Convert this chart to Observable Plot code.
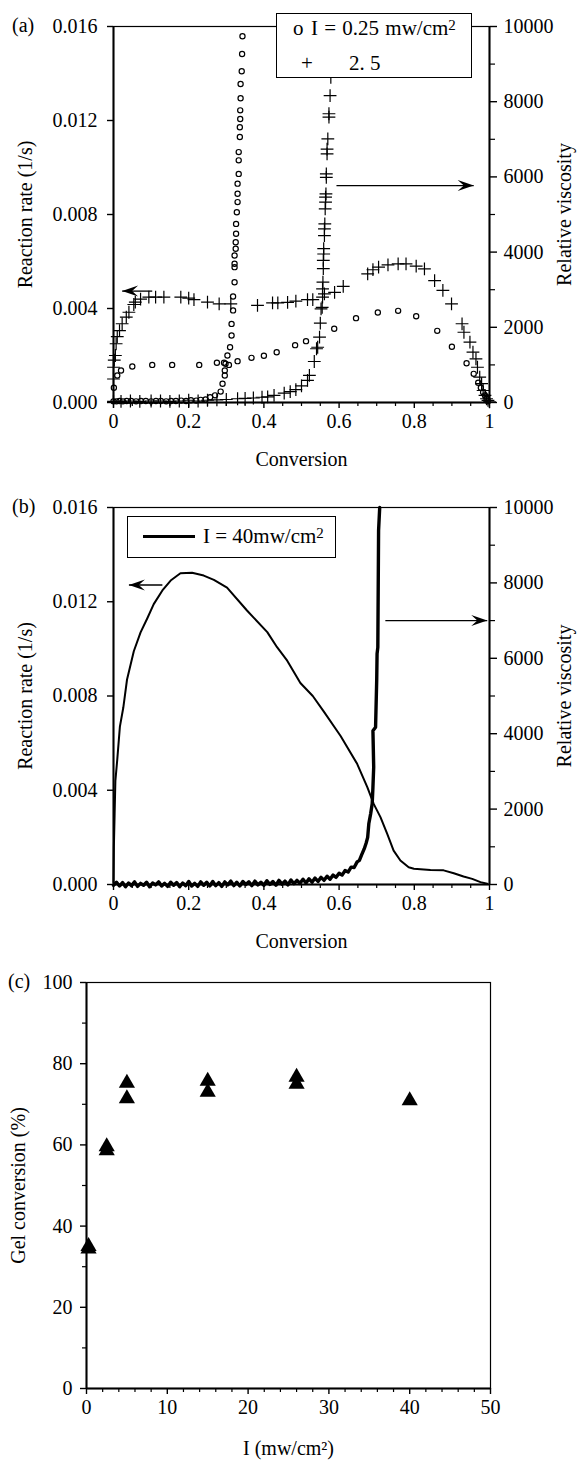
<!DOCTYPE html>
<html><head><meta charset="utf-8">
<script src="https://cdn.jsdelivr.net/npm/d3@7"></script>
<script src="https://cdn.jsdelivr.net/npm/@observablehq/plot@0.6"></script>
<style>
body{margin:0;background:#fff;}
#root{position:relative;width:581px;height:1463px;font-family:"Liberation Serif",serif;font-size:20px;color:#000;overflow:hidden;}
.panel{position:absolute;left:0;}
.panel svg{display:block;}
.tag{position:absolute;line-height:1;white-space:nowrap;}
.legend{position:absolute;border:1.5px solid #000;background:#fff;box-sizing:border-box;font-size:21px;}
.legend span{position:absolute;line-height:1;white-space:nowrap;}
.sup{font-size:15px;vertical-align:7px;}
</style></head><body><div id="root"></div>
<script>
// ---------- tick labels ----------
const convTicks = [0, 0.2, 0.4, 0.6, 0.8, 1];
const convMinor = [0.05,0.1,0.15,0.25,0.3,0.35,0.45,0.5,0.55,0.65,0.7,0.75,0.85,0.9,0.95];
const rateTicks = [0, 0.004, 0.008, 0.012, 0.016];
const viscTicks = [0, 2000, 4000, 6000, 8000, 10000];
const viscMinor = [1000, 3000, 5000, 7000, 9000];
const intensityTicks = [0, 10, 20, 30, 40, 50];
const intensityMinor = [2,4,6,8,12,14,16,18,22,24,26,28,32,34,36,38,42,44,46,48];
const gelTicks = [0, 20, 40, 60, 80, 100];
const gelMinor = [10, 30, 50, 70, 90];

// ---------- (a) I = 0.25 mw/cm2 (circles): [conversion, value] ----------
const rateLow = [[0.001,0.00063],[0.01,0.00115],[0.02,0.00136],[0.05,0.00153],[0.103,0.0016],[0.156,0.0016],[0.228,0.0016],[0.275,0.00169],[0.294,0.00169],[0.307,0.0016],[0.33,0.00176],[0.367,0.0019],[0.40,0.00199],[0.434,0.00214],[0.483,0.00244],[0.512,0.00261],[0.587,0.00314],[0.645,0.00359],[0.703,0.00383],[0.757,0.0039],[0.805,0.00367],[0.861,0.00305],[0.90,0.00237],[0.939,0.00167],[0.958,0.00122],[0.97,0.00084],[0.977,0.00063],[0.983,0.00044],[0.988,0.0003],[0.992,0.00016],[0.996,0.00005]];
const viscLow = [[0.0,30],[0.008,30],[0.016,40],[0.025,30],[0.035,40],[0.047,40],[0.06,30],[0.073,40],[0.086,40],[0.1,30],[0.113,40],[0.126,40],[0.14,30],[0.153,40],[0.166,40],[0.18,50],[0.193,40],[0.206,60],[0.22,50],[0.232,70],[0.245,80],[0.257,140],[0.27,190],[0.285,290],[0.29,500],[0.296,720],[0.296,850],[0.298,1030],[0.303,1250],[0.31,1470],[0.314,1780],[0.314,2090],[0.318,2450],[0.318,2820],[0.322,3200],[0.322,3600],[0.322,3690],[0.322,3910],[0.325,4090],[0.325,4260],[0.326,4490],[0.326,4750],[0.328,5060],[0.33,5330],[0.33,5550],[0.33,5820],[0.333,6080],[0.333,6440],[0.333,6660],[0.336,7060],[0.336,7320],[0.337,7540],[0.337,7770],[0.338,8090],[0.338,8470],[0.341,8810],[0.342,9270],[0.343,9740]];

// ---------- (a) I = 2.5 mw/cm2 (plus) ----------
const rateHigh = [[0.0,0.001],[0.002,0.0018],[0.0,0.0015],[0.005,0.002],[0.007,0.0025],[0.01,0.0028],[0.016,0.00306],[0.023,0.00335],[0.034,0.00363],[0.041,0.00384],[0.054,0.00417],[0.058,0.00427],[0.072,0.0044],[0.094,0.00448],[0.112,0.00448],[0.134,0.00448],[0.179,0.00448],[0.2,0.00444],[0.214,0.00438],[0.25,0.00427],[0.281,0.0042],[0.312,0.0042],[0.383,0.00413],[0.423,0.00424],[0.437,0.00424],[0.463,0.00426],[0.485,0.00431],[0.516,0.00438],[0.53,0.00438],[0.561,0.00462],[0.588,0.00469],[0.611,0.00494],[0.676,0.00547],[0.69,0.00565],[0.705,0.00576],[0.73,0.00586],[0.757,0.0059],[0.778,0.0059],[0.805,0.0058],[0.827,0.00569],[0.854,0.00519],[0.876,0.00477],[0.899,0.0042],[0.927,0.00335],[0.932,0.00299],[0.948,0.00257],[0.956,0.00214],[0.964,0.00186],[0.968,0.0015],[0.974,0.00108],[0.979,0.0008],[0.983,0.00051],[0.988,0.0003],[0.992,0.00016],[0.996,0.00009],[1.0,0.00003]];
const viscHigh = [[0.0,30],[0.02,30],[0.045,40],[0.07,30],[0.1,40],[0.125,40],[0.15,30],[0.175,40],[0.2,60],[0.225,40],[0.25,60],[0.275,70],[0.3,80],[0.33,100],[0.35,110],[0.372,120],[0.395,140],[0.41,150],[0.427,190],[0.454,250],[0.47,290],[0.485,340],[0.5,440],[0.516,590],[0.521,720],[0.534,1090],[0.54,1430],[0.543,1470],[0.548,1740],[0.55,2110],[0.552,2490],[0.555,2530],[0.556,2800],[0.556,3020],[0.557,3200],[0.558,3560],[0.558,3780],[0.559,3950],[0.559,4090],[0.561,4440],[0.561,4620],[0.562,4750],[0.563,5150],[0.564,5330],[0.564,5460],[0.565,5550],[0.566,5990],[0.566,6080],[0.568,6610],[0.568,6740],[0.57,7010],[0.573,7590],[0.573,7680],[0.576,8160],[0.578,8650]];

// ---------- (b) I = 40 mw/cm2 ----------
const rateB = [[0,0.0001],[0.001,0.0016],[0.003,0.003],[0.005,0.0044],[0.01,0.0053],[0.017,0.0067],[0.026,0.0075],[0.036,0.0087],[0.054,0.0099],[0.072,0.0107],[0.09,0.0113],[0.107,0.0119],[0.13,0.01248],[0.152,0.0129],[0.178,0.01321],[0.209,0.01323],[0.24,0.01311],[0.267,0.01293],[0.302,0.0126],[0.355,0.01163],[0.409,0.01071],[0.435,0.01007],[0.462,0.0095],[0.497,0.00855],[0.53,0.0080],[0.559,0.00735],[0.604,0.0063],[0.648,0.00512],[0.675,0.00413],[0.692,0.00342],[0.71,0.00286],[0.728,0.00215],[0.745,0.00144],[0.763,0.00102],[0.785,0.00073],[0.799,0.00067],[0.843,0.00062],[0.878,0.0006],[0.905,0.00048],[0.931,0.00034],[0.954,0.00024],[0.976,0.0001],[0.994,0.00003]];
const viscB = [[0.000,-20],[0.008,60],[0.016,-40],[0.024,50],[0.032,-60],[0.040,40],[0.048,-30],[0.056,70],[0.064,-50],[0.072,30],[0.080,-20],[0.088,60],[0.096,-60],[0.104,40],[0.112,-10],[0.120,70],[0.128,-40],[0.136,30],[0.144,-50],[0.152,60],[0.160,-20],[0.168,50],[0.176,-60],[0.184,40],[0.192,-30],[0.200,80],[0.208,-40],[0.216,30],[0.224,-50],[0.232,70],[0.240,-20],[0.248,60],[0.256,-40],[0.264,80],[0.272,-30],[0.280,50],[0.288,-50],[0.296,70],[0.304,-10],[0.312,90],[0.320,-30],[0.328,60],[0.336,-40],[0.344,80],[0.352,0],[0.360,70],[0.368,-30],[0.376,90],[0.384,-10],[0.392,60],[0.400,-20],[0.408,100],[0.416,0],[0.424,80],[0.432,-20],[0.440,110],[0.448,10],[0.456,90],[0.464,-10],[0.472,120],[0.480,20],[0.488,110],[0.496,30],[0.504,140],[0.512,40],[0.520,150],[0.528,60],[0.536,170],[0.544,80],[0.552,190],[0.560,110],[0.568,220],[0.576,140],[0.584,250],[0.592,190],[0.600,300],[0.608,250],[0.616,370],[0.624,330],[0.632,460],[0.640,450],[0.648,600],[0.654,640],[0.661,810],[0.667,950],[0.672,1100],[0.676,1250],[0.679,1610],[0.684,1880],[0.688,2140],[0.690,2580],[0.692,3110],[0.690,4080],[0.697,4170],[0.700,5410],[0.701,6120],[0.703,6290],[0.705,9390],[0.708,10000]];

// ---------- (c) gel conversion vs intensity ----------
const intensity = [0.25, 0.25, 2.5, 2.5, 5, 5, 15, 15, 26, 26, 40];
const gelConversion = [34.4, 35.0, 59.6, 58.6, 75.2, 71.4, 75.7, 73.0, 76.7, 75.0, 70.9];

// ---------- annotation arrows (data coordinates) ----------
const arrowRateA = [{x1: 0.103, x2: 0.023, y: 0.00474}];
const arrowViscA = [{x1: 0.593, x2: 0.958, y: 5770}];
const arrowRateB = [{x1: 0.13, x2: 0.041, y: 0.01271}];
const arrowViscB = [{x1: 0.723, x2: 0.994, y: 7000}];

const gelData = intensity.map((d, i) => ({I: d, gel: gelConversion[i]}));

// ---------- rendering ----------
const root = document.getElementById("root");
const W = 581;
const STYLE = {fontFamily: "Liberation Serif", fontSize: "20px", background: "transparent", color: "black", overflow: "visible"};
const headRight = {draw(ctx) { const L = 16, H = 5.5; ctx.moveTo(0, 0); ctx.lineTo(-L, -H); ctx.lineTo(-L * 0.62, 0); ctx.lineTo(-L, H); ctx.closePath(); }};
const X = d => d[0], Y = d => d[1];

function place(node, top) {
  const div = document.createElement("div");
  div.className = "panel"; div.style.top = top + "px";
  div.appendChild(node); root.appendChild(div);
}
function addHTML(html) { root.insertAdjacentHTML("beforeend", html); }

function arrowMarks(data) {
  return [
    Plot.link(data, {x1: "x1", x2: "x2", y1: "y", y2: "y", stroke: "black", strokeWidth: 1.3}),
    Plot.dot(data, {x: "x2", y: "y", symbol: headRight, fill: "black", stroke: "none", rotate: d => d.x2 < d.x1 ? 180 : 0})
  ];
}

function leftPanel(height, mt, mb, marks) {
  return Plot.plot({
    width: W, height, marginTop: mt, marginBottom: mb, marginLeft: 113, marginRight: 92,
    style: STYLE,
    x: {domain: [0, 1]}, y: {domain: [0, 0.016]},
    marks: [
      Plot.frame({stroke: "black", strokeWidth: 1.2}),
      Plot.axisX({ticks: convMinor, tickSize: 4, tickFormat: () => "", label: null, strokeWidth: 1.2}),
      Plot.axisX({ticks: convTicks, tickSize: 6, tickPadding: 5, tickFormat: d => String(d), label: "Conversion", labelAnchor: "center", labelArrow: "none", labelOffset: 63, strokeWidth: 1.4}),
      Plot.axisY({ticks: rateTicks, tickSize: 6, tickPadding: 10, tickFormat: d => d.toFixed(3), label: "Reaction rate (1/s)", labelAnchor: "center", labelArrow: "none", labelOffset: 96, strokeWidth: 1.4}),
      Plot.ruleX([0], {stroke: "black", strokeWidth: 2}),
      Plot.ruleY([0], {stroke: "black", strokeWidth: 2}),
      Plot.ruleX([1], {stroke: "black", strokeWidth: 2}),
      ...marks
    ]
  });
}
function rightPanel(height, mt, mb, marks) {
  return Plot.plot({
    width: W, height, marginTop: mt, marginBottom: mb, marginLeft: 113, marginRight: 92,
    style: STYLE,
    x: {domain: [0, 1], axis: null}, y: {domain: [0, 10000]},
    marks: [
      Plot.axisY({anchor: "right", ticks: viscMinor, tickSize: 5, tickFormat: () => "", label: null, strokeWidth: 1.2}),
      Plot.axisY({anchor: "right", ticks: viscTicks, tickSize: 7, tickPadding: 7, tickFormat: d => String(d), label: "Relative viscosity", labelAnchor: "center", labelArrow: "none", labelOffset: 81, strokeWidth: 1.4}),
      ...marks
    ]
  });
}

// Panel (a)
place(leftPanel(480, 26, 78, [
  Plot.dot(rateLow, {x: X, y: Y, r: 2.6, stroke: "black", strokeWidth: 1.2, fill: "none"}),
  Plot.dot(rateHigh, {x: X, y: Y, symbol: "plus", r: 4.2, stroke: "black", strokeWidth: 1.2}),
  ...arrowMarks(arrowRateA)
]), 0);
place(rightPanel(480, 26, 78, [
  Plot.dot(viscLow, {x: X, y: Y, r: 2.6, stroke: "black", strokeWidth: 1.2, fill: "none"}),
  Plot.dot(viscHigh, {x: X, y: Y, symbol: "plus", r: 4.2, stroke: "black", strokeWidth: 1.2}),
  ...arrowMarks(arrowViscA)
]), 0);

// Panel (b)
place(leftPanel(480, 27, 76, [
  Plot.line(rateB, {x: X, y: Y, stroke: "black", strokeWidth: 2}),
  ...arrowMarks(arrowRateB)
]), 480);
place(rightPanel(480, 27, 76, [
  Plot.line(viscB, {x: X, y: Y, stroke: "black", strokeWidth: 3.4}),
  ...arrowMarks(arrowViscB)
]), 480);

// Panel (c)
place(Plot.plot({
  width: W, height: 503, marginTop: 22, marginBottom: 75, marginLeft: 86, marginRight: 91,
  style: STYLE,
  x: {domain: [0, 50]}, y: {domain: [0, 100]},
  marks: [
    Plot.frame({stroke: "black", strokeWidth: 1.2}),
    Plot.axisX({ticks: intensityMinor, tickSize: 4, tickFormat: () => "", label: null, strokeWidth: 1.2}),
    Plot.axisX({ticks: intensityTicks, tickSize: 6, tickPadding: 5, tickFormat: d => String(d), label: "I (mw/cm²)", labelAnchor: "center", labelArrow: "none", labelOffset: 66, strokeWidth: 1.4}),
    Plot.axisY({ticks: gelMinor, tickSize: 4, tickFormat: () => "", label: null, strokeWidth: 1.2}),
    Plot.axisY({ticks: gelTicks, tickSize: 6, tickPadding: 8, tickFormat: d => String(d), label: "Gel conversion (%)", labelAnchor: "center", labelArrow: "none", labelOffset: 76, strokeWidth: 1.4}),
    Plot.ruleX([0], {stroke: "black", strokeWidth: 2}),
    Plot.ruleY([0], {stroke: "black", strokeWidth: 2}),
    Plot.dot(gelData, {x: "I", y: "gel", symbol: "triangle", r: 6, fill: "black", stroke: "none"})
  ]
}), 960);

// Panel tags
addHTML('<div class="tag" style="left:12px;top:15px">(a)</div>');
addHTML('<div class="tag" style="left:12px;top:496px">(b)</div>');
addHTML('<div class="tag" style="left:8px;top:971px">(c)</div>');

// Legend (a)
addHTML('<div class="legend" style="left:276px;top:13px;width:196px;height:65px">' +
  '<span style="left:16px;top:4px">o</span>' +
  '<span style="left:34px;top:4px;word-spacing:1px">I = 0.25 mw/cm<span class="sup">2</span></span>' +
  '<span style="left:24px;top:39px">+</span>' +
  '<span style="left:72px;top:39px">2. 5</span></div>');

// Legend (b)
addHTML('<div class="legend" style="left:127px;top:516px;width:209px;height:42px">' +
  '<span style="left:15px;top:18px;width:52px;height:2.5px;background:#000"></span>' +
  '<span style="left:75px;top:9px">I = 40mw/cm<span class="sup">2</span></span></div>');
</script></body></html>
